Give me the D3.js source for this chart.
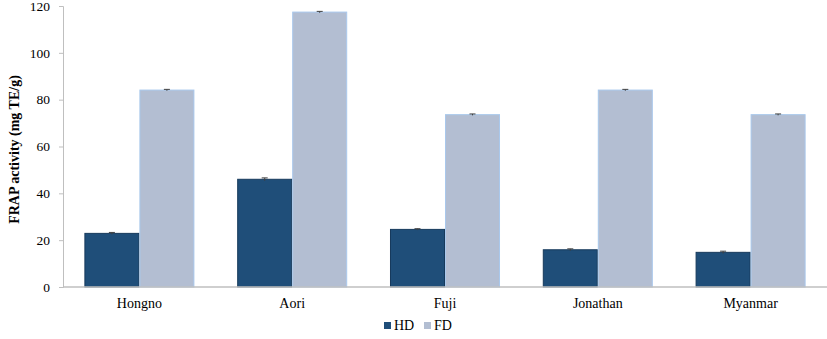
<!DOCTYPE html>
<html>
<head>
<meta charset="utf-8">
<script src="https://cdn.jsdelivr.net/npm/d3@7/dist/d3.min.js"></script>
<style>
  html, body { margin: 0; padding: 0; background: #fff; }
  svg { display: block; }
  svg text { font-family: "Liberation Serif", "Times New Roman", serif !important; fill: #000; }
</style>
</head>
<body>
<svg id="chart" width="827" height="339"></svg>
<script>
// Apple cultivars and FRAP activity for hot-air dried (HD) and freeze dried (FD) samples
const cultivars = ["Hongno", "Aori", "Fuji", "Jonathan", "Myanmar"];
const seriesNames = ["HD", "FD"];
const hdValues = [22.9, 46.0, 24.6, 15.9, 14.8];
const fdValues = [84.1, 117.4, 73.6, 84.1, 73.6];
const hdErrors = [0.4, 0.6, 0.3, 0.4, 0.5];
const fdErrors = [0.3, 0.3, 0.3, 0.3, 0.3];
const yTicks = [0, 20, 40, 60, 80, 100, 120];

const colors = { HD: "#1F4E79", FD: "#B3BED2" };
const strokes = { HD: "#173A5C", FD: "#A9C8EC" };
const serif = "'Liberation Serif', 'Times New Roman', serif";

const svg = d3.select("#chart").attr("font-family", serif);
const plotLeft = 63, plotRight = 827, plotTop = 6, plotBottom = 287;

const x0 = d3.scaleBand()
  .domain(cultivars)
  .range([plotLeft, plotRight])
  .paddingInner(0.28)
  .paddingOuter(0.14);
const x1 = d3.scaleBand()
  .domain(seriesNames)
  .range([0, x0.bandwidth()])
  .padding(0);
const y = d3.scaleLinear().domain([0, 120]).range([plotBottom, plotTop]);

// y axis
const yAxis = d3.axisLeft(y).tickValues(yTicks).tickSize(4).tickPadding(9);
const gy = svg.append("g").attr("transform", `translate(${plotLeft},0)`).call(yAxis)
  .attr("font-family", serif);
gy.select(".domain").attr("stroke", "#bfbfbf");
gy.selectAll(".tick line").attr("stroke", "#bfbfbf");
gy.selectAll(".tick text")
  .style("font-size", "13.5px")
  .attr("fill", "#000");

// bars
const rows = cultivars.map((c, i) => ({
  cultivar: c,
  values: [
    { key: "HD", value: hdValues[i], err: hdErrors[i] },
    { key: "FD", value: fdValues[i], err: fdErrors[i] }
  ]
}));

const groups = svg.append("g").selectAll("g")
  .data(rows).join("g")
  .attr("transform", d => `translate(${x0(d.cultivar)},0)`);

groups.selectAll("rect")
  .data(d => d.values).join("rect")
  .attr("x", d => x1(d.key) + 0.5)
  .attr("width", x1.bandwidth() - 1)
  .attr("y", d => y(d.value))
  .attr("height", d => y(0) - y(d.value))
  .attr("fill", d => colors[d.key])
  .attr("stroke", d => strokes[d.key])
  .attr("stroke-width", 1);

// error bars
const eb = groups.selectAll("g.err")
  .data(d => d.values).join("g").attr("class", "err");
eb.append("line")
  .attr("x1", d => x1(d.key) + x1.bandwidth() / 2)
  .attr("x2", d => x1(d.key) + x1.bandwidth() / 2)
  .attr("y1", d => y(d.value + d.err))
  .attr("y2", d => y(d.value - d.err))
  .attr("stroke", "#404040").attr("stroke-width", 1);
eb.append("line")
  .attr("x1", d => x1(d.key) + x1.bandwidth() / 2 - 3)
  .attr("x2", d => x1(d.key) + x1.bandwidth() / 2 + 3)
  .attr("y1", d => y(d.value + d.err))
  .attr("y2", d => y(d.value + d.err))
  .attr("stroke", "#404040").attr("stroke-width", 1);

// x axis
const xAxis = d3.axisBottom(x0).tickSize(0).tickPadding(11);
const gx = svg.append("g").attr("transform", `translate(0,${plotBottom})`).call(xAxis)
  .attr("font-family", serif);
gx.select(".domain").attr("stroke", "#bfbfbf").attr("stroke-width", 1.5)
  .attr("d", `M${plotLeft},0H${plotRight}`);
gx.selectAll(".tick text")
  .style("font-size", "14px")
  .attr("fill", "#000");

// y axis title
svg.append("text")
  .attr("transform", `translate(19,${(plotTop + plotBottom) / 2 + 3}) rotate(-90)`)
  .attr("text-anchor", "middle")
  .style("font-size", "14px")
  .style("font-weight", "bold")
  .text("FRAP activity (mg TE/g)");

// legend
const legend = svg.append("g").attr("transform", "translate(384,322)");
const legendItems = legend.selectAll("g").data(seriesNames).join("g")
  .attr("transform", (d, i) => `translate(${i * 40},0)`);
legendItems.append("rect")
  .attr("width", 7).attr("height", 7)
  .attr("fill", d => colors[d]);
legendItems.append("text")
  .attr("x", 10).attr("y", 8)
  .style("font-size", "14px")
  .text(d => d);
</script>
</body>
</html>
